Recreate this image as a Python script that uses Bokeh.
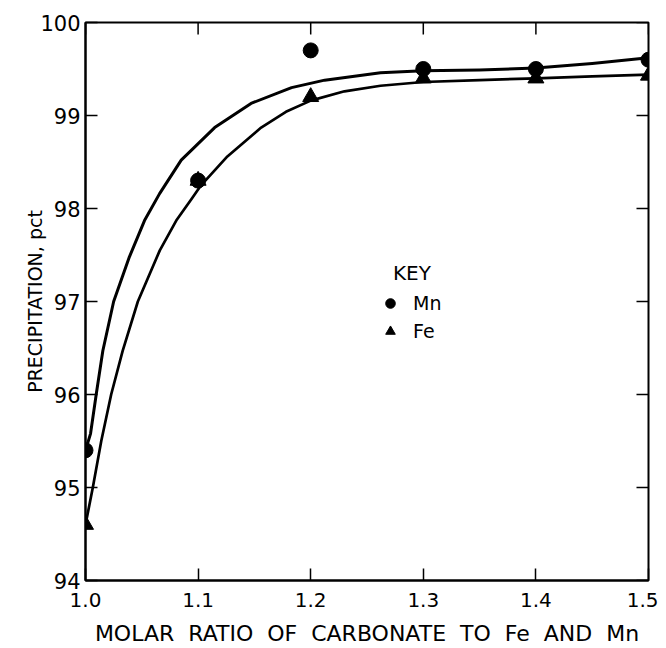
import math
from bokeh.plotting import figure
from bokeh.models import (LinearAxis, FixedTicker, Legend, LegendItem, Label, Range1d)
from bokeh.embed import file_html
from bokeh.resources import INLINE

# ---- data ----
ratio = [1.0, 1.1, 1.2, 1.3, 1.4, 1.5]
mn_points = [95.4, 98.3, 99.7, 99.5, 99.5, 99.6]
fe_points = [94.6, 98.3, 99.2, 99.4, 99.4, 99.43]

mn_curve_x = [1.000, 1.0045, 1.0095, 1.0154, 1.025, 1.039, 1.0524, 1.0658, 1.085,
              1.1147, 1.147, 1.183, 1.2124, 1.262, 1.300, 1.350, 1.400, 1.450, 1.500]
mn_curve_y = [95.40, 95.58, 96.00, 96.47, 97.00, 97.48, 97.87, 98.16, 98.52,
              98.87, 99.13, 99.30, 99.38, 99.46, 99.48, 99.49, 99.51, 99.56, 99.62]

fe_curve_x = [1.000, 1.0065, 1.014, 1.0228, 1.033, 1.0465, 1.066, 1.0806, 1.094,
              1.102, 1.126, 1.156, 1.178, 1.200, 1.230, 1.262, 1.300, 1.350, 1.400,
              1.450, 1.500]
fe_curve_y = [94.60, 95.00, 95.50, 96.00, 96.47, 97.00, 97.55, 97.87, 98.10,
              98.24, 98.56, 98.87, 99.04, 99.16, 99.26, 99.32, 99.36, 99.38, 99.40,
              99.42, 99.44]

x_ticks = [1.0, 1.1, 1.2, 1.3, 1.4, 1.5]
x_tick_labels = ["1.0", "1.1", "1.2", "1.3", "1.4", "1.5"]
y_ticks = [94, 95, 96, 97, 98, 99, 100]
x_min, x_max = 1.0, 1.5
y_min, y_max = 94, 100

FONT = "DejaVu Sans"
NB = "\u00a0 "  # double word spacing as in the original lettering

p = figure(width=658, height=648, output_backend="svg", toolbar_location=None,
           x_range=Range1d(x_min, x_max), y_range=Range1d(y_min, y_max),
           x_axis_location=None, y_axis_location=None,
           min_border_left=85, min_border_right=10, min_border_top=22,
           min_border_bottom=68)
p.grid.visible = False
p.outline_line_color = "black"
p.outline_line_width = 2
p.background_fill_color = "white"
p.border_fill_color = "white"


def style_axis(ax):
    ax.axis_line_width = 2
    ax.axis_line_color = "black"
    ax.major_tick_in = 12
    ax.major_tick_out = 0
    ax.major_tick_line_width = 1.5
    ax.minor_tick_line_color = None
    ax.major_label_text_font = FONT
    ax.major_label_text_color = "black"
    ax.axis_label_text_font = FONT
    ax.axis_label_text_font_style = "normal"
    ax.axis_label_text_color = "black"


xb = LinearAxis(ticker=FixedTicker(ticks=x_ticks))
style_axis(xb)
xb.major_label_overrides = {t: l for t, l in zip(x_ticks, x_tick_labels)}
xb.major_label_text_font_size = "20px"
xb.major_label_standoff = 12
xb.axis_label = NB.join(["MOLAR", "RATIO", "OF", "CARBONATE", "TO", "Fe", "AND", "Mn"])
xb.axis_label_text_font_size = "22px"
xb.axis_label_standoff = 11
p.add_layout(xb, "below")

yl = LinearAxis(ticker=FixedTicker(ticks=y_ticks))
style_axis(yl)
yl.major_label_text_font_size = "21px"
yl.major_label_standoff = 5
yl.axis_label = "PRECIPITATION, pct"
yl.axis_label_text_font_size = "19px"
yl.axis_label_standoff = -9
p.add_layout(yl, "left")

# inward ticks on the top and right frame edges (half of each dash is clipped by the frame)
p.scatter(x_ticks, [y_max] * len(x_ticks), marker="dash", size=24, angle=math.pi / 2,
          line_color="black", line_width=1.5)
p.scatter([x_max] * len(y_ticks), y_ticks, marker="dash", size=24,
          line_color="black", line_width=1.5)

# fitted curves
p.line(mn_curve_x, mn_curve_y, line_color="black", line_width=3, line_join="round")
p.line(fe_curve_x, fe_curve_y, line_color="black", line_width=2.7, line_join="round")

# data points
r_mn = p.scatter(ratio, mn_points, marker="circle", size=15, fill_color="black",
                 line_color="black")
r_fe = p.scatter(ratio, fe_points, marker="triangle", size=16, fill_color="black",
                 line_color="black")

legend = Legend(items=[LegendItem(label="Mn", renderers=[r_mn]),
                       LegendItem(label="Fe", renderers=[r_fe])],
                location=(293, 237), padding=0, margin=0, spacing=4,
                glyph_width=24, glyph_height=24, label_height=24,
                label_standoff=11, label_text_font=FONT, label_text_color="black",
                label_text_font_size="19px", border_line_color=None,
                background_fill_alpha=0)
p.add_layout(legend, "center")

p.add_layout(Label(x=1.273, y=97.31, text="KEY", text_font=FONT,
                   text_font_size="20px", text_baseline="middle",
                   text_align="left", text_color="black"))

open("out.html", "w").write(file_html(p, INLINE))
